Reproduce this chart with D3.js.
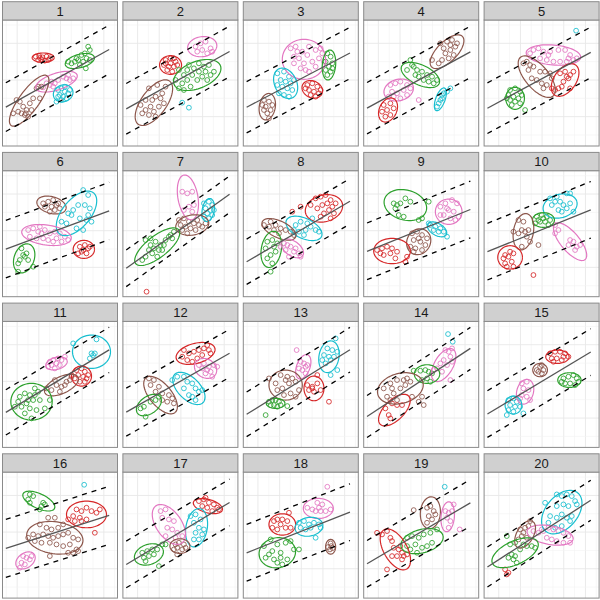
<!DOCTYPE html>
<html>
<head>
<meta charset="utf-8">
<script src="https://cdn.jsdelivr.net/npm/d3@7"></script>
<style>
  body { margin: 0; background: #fff; }
</style>
</head>
<body>
<div id="chart"></div>
<script>
const panelLabels = d3.range(1, 21).map(String);
const groups = ['red', 'green', 'cyan', 'pink', 'brown'];
const groupColors = ['#d62728', '#2ca02c', '#17becf', '#e377c2', '#8c564b'];

// fitted line per panel (intercept, slope) and half width of the dashed band
const fitIntercept = [111, 106, 111, 108, 108, 139, 78, 99, 132, 131, 99, 100, 93, 86, 94, 146, 95, 132, 97, 87];
const fitSlope = [0.558, 0.555, 0.525, 0.545, 0.54, 0.37, 0.716, 0.585, 0.405, 0.405, 0.605, 0.57, 0.625, 0.66, 0.6, 0.32, 0.6, 0.393, 0.59, 0.645];
const bandHalf = [73, 76, 77, 77, 76, 86, 55, 68, 85, 85, 68, 72, 67, 63, 70, 87, 70, 85, 70, 60];
const fitRange = [10, 320];

const xTicks = d3.range(11).map(k => 11.5 + 32.5 * k);
const yTicks = d3.range(7).map(k => 33 + 55 * k);

// points of each panel, by group
const panelPoints = [
  { // 1
    red: [[100,268],[110,270],[120,266],[132,268],[142,263],[107,258],[117,260],[127,256],[137,258],[112,264]],
    green: [[257,298],[262,288],[247,278],[237,273],[252,263],[227,258],[217,253],[242,253],[207,248],[232,243],[262,258],[197,253],[250,233],[222,263]],
    pink: [[202,198],[192,203],[182,208],[167,198],[157,188],[142,183],[132,188],[152,178],[197,213],[212,203],[122,176],[147,193]],
    cyan: [[167,168],[177,173],[187,163],[197,158],[172,153],[182,148],[192,143],[177,138],[162,133],[202,168],[187,178],[167,148]],
    brown: [[42,138],[52,133],[62,118],[72,108],[57,98],[67,93],[47,103],[77,88],[82,128],[92,143],[107,178],[102,173],[117,178],[112,143],[32,98],[70,98],[87,108]]
  },
  { // 2
    red: [[128,258],[143,263],[158,253],[123,243],[138,238],[153,238],[133,228],[148,223],[163,243],[128,248],[143,248],[153,263]],
    pink: [[218,298],[233,308],[248,313],[263,293],[268,283],[238,288],[223,283],[253,278]],
    green: [[168,228],[183,213],[193,198],[178,188],[198,243],[213,233],[228,248],[243,238],[258,243],[273,223],[238,208],[223,198],[208,213],[253,198],[263,213],[183,168],[168,173],[203,178],[248,223],[228,223],[193,228],[158,198]],
    cyan: [[178,130],[198,115]],
    brown: [[78,173],[103,183],[128,178],[118,158],[98,148],[68,138],[53,123],[68,108],[83,118],[93,103],[108,118],[123,128],[78,93],[58,98],[98,88],[113,143],[88,138]]
  },
  { // 3
    pink: [[142,293],[157,298],[177,283],[197,298],[217,288],[232,293],[152,268],[167,263],[192,273],[207,253],[227,263],[237,278],[172,233],[187,228],[197,223],[152,248],[182,248],[217,238],[242,253],[162,283]],
    green: [[252,278],[262,268],[247,253],[267,248],[257,238],[247,228],[262,223],[252,213],[267,233]],
    cyan: [[102,218],[122,223],[137,208],[112,198],[127,193],[142,188],[117,178],[132,173],[147,168],[107,158],[122,153],[137,148],[102,183],[152,198]],
    red: [[192,183],[207,188],[222,178],[197,168],[212,163],[227,158],[202,153],[217,148],[187,173],[232,168]],
    brown: [[62,138],[77,133],[87,123],[67,118],[82,108],[72,98],[62,108],[77,83],[57,123]]
  },
  { // 4
    brown: [[230,308],[250,313],[265,318],[275,298],[260,288],[245,278],[270,273],[255,263],[235,258],[225,248],[205,258],[240,293],[280,308],[260,303]],
    green: [[140,258],[150,238],[130,228],[160,228],[175,223],[190,213],[205,208],[220,198],[165,208],[180,198],[195,193],[155,213],[145,243],[210,188]],
    pink: [[80,183],[95,188],[110,193],[130,183],[140,173],[85,163],[100,158],[120,168],[90,148],[110,143],[130,153],[75,148],[165,138]],
    red: [[60,123],[80,128],[90,113],[70,108],[80,93],[65,88],[55,103]],
    cyan: [[260,173],[250,163],[235,153],[230,138],[225,128],[220,118],[235,143],[240,158]]
  },
  { // 5
    cyan: [[276,346]],
    pink: [[148,288],[163,293],[178,283],[198,283],[223,288],[243,288],[258,273],[268,258],[248,253],[228,253],[208,253],[188,258],[168,263],[193,273],[253,263],[278,263],[138,278]],
    brown: [[128,253],[138,243],[148,238],[133,228],[168,223],[183,223],[198,218],[158,198],[173,188],[188,183],[203,203],[143,203],[178,173],[118,248]],
    red: [[228,218],[243,223],[258,213],[268,223],[253,203],[238,193],[223,173],[213,168],[233,178],[258,173],[203,173],[248,208]],
    green: [[78,168],[93,173],[108,163],[73,153],[88,148],[103,143],[78,138],[93,133],[108,128],[83,123],[123,108],[113,153],[68,143]]
  },
  { // 6
    brown: [[122,280],[137,285],[152,290],[167,280],[172,265],[157,260],[142,255],[127,270],[147,270],[162,275]],
    cyan: [[242,320],[257,305],[227,275],[247,275],[262,265],[197,250],[207,245],[232,235],[252,230],[267,225],[177,225],[222,205],[242,200],[192,220],[257,245],[212,260]],
    pink: [[77,200],[92,205],[107,195],[112,210],[127,200],[142,190],[157,195],[172,190],[187,180],[197,170],[82,180],[102,175],[122,175],[137,170],[152,165],[177,165],[117,190],[162,175]],
    red: [[232,150],[247,155],[257,145],[237,135],[252,130],[227,130],[242,140],[262,150]],
    green: [[57,145],[72,130],[67,120],[52,110],[77,110],[47,100],[92,90],[47,75],[62,125]]
  },
  { // 7
    red: [[71,15]],
    pink: [[178,315],[193,310],[208,315],[213,275],[198,270],[183,260],[208,255]],
    cyan: [[243,280],[258,285],[268,275],[248,265],[263,260],[253,250],[268,245],[243,240],[258,235],[273,260]],
    brown: [[168,230],[183,235],[198,225],[213,220],[228,215],[238,210],[218,200],[203,205],[188,210],[173,215],[248,220],[223,230],[193,190],[178,200]],
    green: [[68,170],[83,175],[98,165],[113,155],[128,170],[143,185],[153,195],[138,180],[93,145],[108,140],[78,140],[88,130],[103,120],[68,120],[58,110],[118,140],[148,175],[123,155],[83,155]]
  },
  { // 8
    red: [[217,295],[232,300],[247,305],[262,290],[252,280],[237,275],[267,270],[257,260],[242,250],[232,240],[262,235],[272,250],[222,265],[202,275],[172,270],[147,255],[277,280]],
    cyan: [[157,215],[172,225],[192,220],[202,210],[217,200],[227,195],[167,195],[187,200],[152,200],[207,235],[182,185]],
    brown: [[62,215],[82,225],[97,215],[112,205],[127,200],[142,195],[92,200],[77,210],[107,190],[152,185]],
    green: [[72,165],[87,170],[102,160],[67,145],[92,150],[82,125],[72,115],[87,100],[82,75],[97,135]],
    pink: [[122,160],[132,155],[142,150],[157,145],[167,130],[152,135],[137,120],[127,140],[112,150],[172,120]]
  },
  { // 9
    green: [[90,280],[100,275],[110,280],[125,295],[140,285],[105,245],[120,240],[175,235],[195,285],[165,230],[95,265]],
    pink: [[230,270],[245,280],[265,290],[280,280],[255,260],[270,255],[285,240],[240,245],[260,235],[230,245],[275,230],[250,265]],
    cyan: [[200,215],[215,210],[230,205],[240,195],[225,195],[210,200],[250,180],[195,220]],
    brown: [[145,190],[160,195],[175,185],[190,175],[150,170],[170,165],[185,155],[140,150],[155,145],[175,140],[150,135],[165,175]],
    red: [[40,140],[55,145],[70,150],[85,145],[100,135],[80,130],[60,125],[95,115],[125,105],[130,120],[50,130]]
  },
  { // 10
    cyan: [[198,295],[218,300],[248,310],[258,310],[228,285],[203,275],[223,260],[233,255],[248,265],[268,255],[258,280],[238,275],[213,285]],
    green: [[158,240],[173,245],[188,240],[198,230],[168,225],[183,225],[153,220],[193,215],[178,235],[163,230]],
    brown: [[103,230],[118,225],[113,200],[123,195],[133,200],[88,195],[103,190],[138,165],[163,155],[113,150],[128,180]],
    pink: [[213,215],[223,200],[213,190],[258,170],[268,165],[278,150],[273,140],[253,155],[288,155]],
    red: [[63,125],[78,135],[88,130],[58,115],[73,120],[83,105],[68,90],[88,90],[63,100],[148,65]]
  },
  { // 11
    cyan: [[212,312],[282,324],[267,282],[277,282],[262,267],[272,277]],
    pink: [[142,257],[152,262],[167,267],[177,262],[187,272],[147,247],[162,252],[172,247],[157,237],[137,242]],
    red: [[222,232],[237,237],[247,227],[227,217],[242,212],[252,207],[232,197],[247,197],[217,207],[207,217],[257,217]],
    brown: [[132,177],[147,172],[162,187],[177,182],[192,197],[202,202],[207,212],[172,167],[157,202],[187,187]],
    green: [[52,152],[67,162],[82,157],[97,177],[107,167],[112,142],[92,142],[72,132],[57,122],[37,122],[82,117],[102,112],[67,102],[87,87],[127,117],[142,142],[47,137],[77,142],[97,157]]
  },
  { // 12
    red: [[183,292],[198,282],[213,287],[228,292],[243,297],[258,292],[263,282],[193,262],[208,257],[223,267],[238,277],[178,272],[253,307]],
    pink: [[228,247],[243,252],[258,242],[238,237],[253,232],[273,247],[283,242],[263,227],[248,222],[268,212]],
    cyan: [[148,202],[163,212],[183,212],[193,197],[208,192],[218,177],[228,167],[208,152],[218,142],[198,157],[238,172],[183,177]],
    brown: [[78,207],[93,202],[83,187],[108,182],[118,162],[138,157],[148,147],[133,137],[153,132],[118,142],[98,167]],
    green: [[63,122],[83,137],[98,142],[108,152],[68,92],[53,117]]
  },
  { // 13
    cyan: [[277,327],[252,297],[267,292],[282,287],[242,277],[257,272],[272,272],[237,262],[262,262],[247,252],[282,232],[262,217]],
    pink: [[160,292],[172,257],[182,252],[187,242],[177,232],[187,222],[192,247],[167,237]],
    brown: [[77,207],[112,217],[132,212],[147,207],[97,192],[117,177],[137,192],[157,197],[167,172],[142,162],[122,157],[157,152],[102,172],[127,202]],
    red: [[192,187],[207,182],[222,192],[197,172],[212,167],[232,172],[222,217],[257,137],[207,177]],
    green: [[77,137],[87,142],[97,142],[107,137],[82,127],[92,127],[102,122],[112,127],[132,124],[67,97]]
  },
  { // 14
    cyan: [[253,340],[267,317]],
    pink: [[245,292],[255,287],[265,297],[260,272],[240,262],[230,252],[250,247],[220,237],[235,227],[210,232],[265,257],[260,202]],
    green: [[150,230],[170,230],[185,232],[195,227],[205,222],[190,207],[175,202],[200,197]],
    brown: [[80,192],[100,202],[120,202],[130,207],[140,197],[60,177],[85,177],[110,177],[125,187],[90,162],[70,152],[100,142],[145,152],[175,152],[180,127],[165,137],[80,142]],
    red: [[65,117],[85,132],[100,127],[115,127],[75,97],[80,87]]
  },
  { // 15
    red: [[198,282],[213,287],[228,287],[243,282],[253,272],[203,267],[218,267],[233,262],[208,257],[238,272]],
    brown: [[168,242],[173,247],[178,232],[163,227],[173,222],[158,232]],
    green: [[238,207],[253,212],[268,217],[278,207],[243,192],[258,192],[273,187],[233,197],[283,197]],
    pink: [[113,192],[128,197],[118,177],[133,172],[113,157],[128,152],[138,142],[108,147]],
    cyan: [[73,142],[88,147],[98,137],[78,127],[93,122],[73,112],[88,107],[108,122],[68,97],[118,102]]
  },
  { // 16
    cyan: [[245,340]],
    green: [[82,311],[92,306],[77,296],[82,286],[122,286],[117,276],[127,281],[112,266]],
    red: [[222,266],[237,261],[252,271],[267,261],[282,256],[292,266],[212,246],[232,241],[252,236],[237,231],[217,231],[277,196],[197,236]],
    brown: [[137,241],[157,241],[112,221],[132,211],[147,206],[167,211],[182,221],[92,191],[107,186],[122,191],[137,186],[152,181],[167,186],[182,191],[197,196],[212,181],[227,176],[97,171],[117,166],[142,166],[162,161],[182,156],[202,161],[222,146],[142,126],[197,136],[212,136],[227,141],[77,181]],
    pink: [[62,126],[72,121],[82,116],[57,106],[67,101],[87,126],[52,91]]
  },
  { // 17
    red: [[228,291],[243,296],[258,286],[273,281],[283,271],[238,276],[253,271],[268,261],[288,266],[248,301]],
    cyan: [[203,246],[218,251],[233,236],[213,226],[228,211],[218,196],[238,191],[213,176],[228,176],[243,206]],
    pink: [[113,261],[128,266],[118,241],[138,236],[153,231],[133,211],[148,206],[163,196],[158,181],[178,186],[128,186]],
    brown: [[158,161],[168,166],[183,161],[163,151],[178,146],[153,146],[188,151],[163,131]],
    green: [[58,136],[73,141],[88,146],[103,146],[63,121],[78,126],[93,131],[68,111],[108,96],[118,161],[128,161]]
  },
  { // 18
    pink: [[252,334],[192,271],[207,266],[222,286],[237,281],[217,261],[232,261],[247,261],[262,266],[227,271]],
    red: [[92,231],[102,236],[117,236],[132,231],[137,256],[112,221],[127,211],[142,211],[102,206],[87,211]],
    cyan: [[167,226],[182,231],[197,221],[212,226],[227,221],[172,211],[187,206],[202,211],[217,181],[232,211]],
    green: [[62,156],[82,176],[102,161],[127,166],[142,171],[152,146],[167,146],[87,141],[112,136],[67,121],[92,116],[102,106],[112,121],[132,116],[77,131],[117,101]],
    brown: [[262,164],[264,156],[260,146],[268,150],[254,153]]
  },
  { // 19
    cyan: [[243,334]],
    brown: [[150,264],[190,271],[200,276],[210,261],[195,246],[205,236],[190,226],[215,251]],
    pink: [[245,261],[255,256],[265,261],[250,241],[260,231],[255,211],[270,281],[288,206]],
    green: [[130,181],[145,186],[165,181],[180,191],[200,196],[220,206],[155,161],[175,151],[190,156],[205,166],[140,146],[160,136],[130,156]],
    red: [[40,196],[55,191],[70,201],[80,181],[85,171],[90,151],[105,146],[115,136],[120,126],[100,126],[85,126],[115,116],[70,86],[110,156],[130,131]]
  },
  { // 20
    cyan: [[218,311],[233,306],[248,311],[263,306],[273,291],[278,281],[238,281],[253,276],[183,286],[218,276],[198,246],[218,241],[233,251],[248,241],[263,246],[193,226],[213,211],[233,216],[258,231]],
    pink: [[148,201],[163,196],[178,201],[193,211],[208,206],[223,201],[238,196],[253,186],[188,181],[203,176],[218,171],[238,166],[258,166],[173,206]],
    brown: [[108,206],[123,211],[133,216],[113,186],[128,181],[103,176],[138,231],[118,196]],
    green: [[68,186],[78,161],[93,166],[118,161],[128,156],[143,156],[153,151],[83,131],[93,126],[73,121],[88,116],[98,106],[108,146]],
    red: [[63,86],[73,76],[68,71]]
  }
];

// ellipses of each panel: group, centre x, centre y, semi-axis a, semi-axis b, angle (deg)
const panelEllipses = [
  [['red',122,265,33,14,0],['green',232,255,45,20,15],['pink',162,193,65,25,18],['cyan',182,158,30,25,20],['brown',80,136,92,30,54]],
  [['red',143,243,33,28,0],['pink',238,298,44,30,8],['green',223,213,75,40,22],['brown',93,130,80,38,54]],
  [['pink',182,260,65,60,0],['green',257,243,45,20,85],['cyan',127,188,48,33,-65],['red',207,170,32,25,-25],['brown',72,118,40,24,80]],
  [['brown',250,283,65,30,45],['green',170,213,62,30,-25],['pink',105,168,45,32,15],['red',73,108,38,26,65],['cyan',230,140,36,14,70]],
  [['pink',208,273,82,30,-5],['brown',158,208,76,35,-50],['red',243,198,55,33,55],['green',93,143,33,28,90]],
  [['brown',147,275,45,25,-15],['cyan',222,250,80,42,50],['pink',132,185,75,30,-8],['red',244,142,32,27,0],['green',65,115,45,30,70]],
  [['pink',195,298,68,30,100],['cyan',256,260,35,18,80],['brown',208,215,50,30,10],['green',103,150,82,32,38]],
  [['red',242,265,57,40,15],['cyan',182,205,58,30,-25],['brown',107,202,55,25,-25],['green',84,142,55,30,80],['pink',147,145,38,22,-35]],
  [['green',125,275,65,45,-15],['pink',255,255,40,38,0],['cyan',220,202,32,18,-30],['brown',165,165,40,35,60],['red',85,137,55,38,0]],
  [['cyan',228,272,52,35,15],['green',178,230,33,22,0],['brown',118,195,55,30,80],['pink',258,165,70,28,-50],['red',78,118,37,35,0]],
  [['cyan',267,287,57,50,0],['pink',162,252,33,18,15],['red',237,214,30,30,0],['brown',177,187,55,25,25],['green',87,137,62,55,0]],
  [['red',218,282,60,30,15],['pink',248,237,35,28,-30],['cyan',198,177,60,33,-45],['brown',113,157,68,33,-50],['green',78,127,42,26,35]],
  [['cyan',257,272,48,30,80],['pink',180,242,38,20,70],['brown',127,187,50,45,0],['red',212,177,37,30,90],['green',97,132,28,15,0]],
  [['pink',240,247,55,28,60],['green',190,220,38,28,0],['brown',110,177,70,45,15],['red',92,112,60,30,45]],
  [['red',220,272,35,20,0],['brown',168,232,22,20,0],['green',256,202,35,22,0],['pink',123,167,38,25,75],['cyan',88,127,27,25,90]],
  [['green',109,291,52,22,-25],['red',252,251,60,40,0],['brown',157,181,85,48,-8],['pink',69,113,32,22,35]],
  [['red',255,276,45,20,-15],['cyan',221,211,58,32,80],['pink',138,221,68,38,-55],['brown',171,156,30,22,0],['green',78,131,45,30,20]],
  [['pink',225,269,45,30,0],['red',117,221,40,32,0],['cyan',197,214,42,28,10],['green',102,136,55,45,10],['brown',262,154,22,15,90]],
  [['brown',200,256,48,30,85],['pink',252,244,45,20,85],['green',175,171,65,35,15],['red',95,146,68,35,-60]],
  [['cyan',233,258,75,48,50],['pink',198,189,70,28,-10],['brown',123,191,45,25,60],['green',93,136,75,35,25]]
];

const W = 600, H = 600;
const svg = d3.select('#chart').append('svg')
  .attr('width', W).attr('height', H)
  .style('font-family', '"Liberation Sans", Arial, sans-serif');

const color = d3.scaleOrdinal().domain(groups).range(groupColors);

function ellipseOutline(e) {
  const [, cx, cy, a, b, deg] = e;
  const th = deg * Math.PI / 180;
  return d3.range(0, 73).map(k => {
    const t = k / 72 * 2 * Math.PI;
    const ex = a * Math.cos(t), ey = b * Math.sin(t);
    return [cx + ex * Math.cos(th) - ey * Math.sin(th), cy + ex * Math.sin(th) + ey * Math.cos(th)];
  });
}

panelLabels.forEach((label, i) => {
  const col = i % 5, row = Math.floor(i / 5);
  const left = 2.5 + col * 120.4, width = 115;
  const stripTop = 1.7 + row * 150.7, stripH = 18.3;
  const top = stripTop + stripH, bottom = top + 126;

  const x = d3.scaleLinear().domain([0, 345]).range([left, left + width]);
  const y = d3.scaleLinear().domain([0, 378]).range([bottom, top]);

  const g = svg.append('g').attr('class', 'panel');

  // grid
  g.selectAll('.vgrid').data(xTicks).join('line')
    .attr('x1', d => x(d)).attr('x2', d => x(d))
    .attr('y1', top).attr('y2', bottom)
    .attr('stroke', (d, k) => k % 2 ? '#e8e8e8' : '#f2f2f2')
    .attr('stroke-width', (d, k) => k % 2 ? 0.9 : 0.6);
  g.selectAll('.hgrid').data(yTicks).join('line')
    .attr('y1', d => y(d)).attr('y2', d => y(d))
    .attr('x1', left).attr('x2', left + width)
    .attr('stroke', (d, k) => k % 2 ? '#e8e8e8' : '#f2f2f2')
    .attr('stroke-width', (d, k) => k % 2 ? 0.9 : 0.6);

  const clipId = 'clip' + i;
  svg.append('clipPath').attr('id', clipId)
    .append('rect').attr('x', left).attr('y', top).attr('width', width).attr('height', bottom - top);
  const plot = g.append('g').attr('clip-path', `url(#${clipId})`);

  // points
  const pts = panelPoints[i];
  Object.keys(pts).forEach(grp => {
    plot.append('g').selectAll('circle').data(pts[grp]).join('circle')
      .attr('cx', d => x(d[0])).attr('cy', d => y(d[1]))
      .attr('r', 2.4)
      .attr('fill', 'none')
      .attr('stroke', color(grp))
      .attr('stroke-width', 0.85);
  });

  // ellipses
  const line = d3.line().x(d => x(d[0])).y(d => y(d[1]));
  plot.selectAll('.ell').data(panelEllipses[i]).join('path')
    .attr('d', d => line(ellipseOutline(d)))
    .attr('fill', 'none')
    .attr('stroke', d => color(d[0]))
    .attr('stroke-width', 1.2);

  // fitted line with dashed band
  const a = fitIntercept[i], b = fitSlope[i], h = bandHalf[i];
  [-h, h].forEach(off => {
    plot.append('path')
      .attr('d', line(fitRange.map(v => [v, a + b * v + off])))
      .attr('stroke', '#000').attr('stroke-width', 1.3)
      .attr('stroke-dasharray', '5,5').attr('fill', 'none');
  });
  plot.append('path')
    .attr('d', line(fitRange.map(v => [v, a + b * v])))
    .attr('stroke', '#555').attr('stroke-width', 1.3).attr('fill', 'none');

  // border and strip
  g.append('rect')
    .attr('x', left).attr('y', top).attr('width', width).attr('height', bottom - top)
    .attr('fill', 'none').attr('stroke', '#8a8a8a').attr('stroke-width', 1);
  g.append('rect')
    .attr('x', left).attr('y', stripTop).attr('width', width).attr('height', stripH)
    .attr('fill', '#d0d0d0').attr('stroke', '#8a8a8a').attr('stroke-width', 1);
  g.append('text')
    .attr('x', left + width / 2).attr('y', stripTop + stripH / 2)
    .attr('dy', '0.36em')
    .attr('text-anchor', 'middle')
    .attr('font-size', 13)
    .attr('fill', '#1a1a1a')
    .text(label);
});
</script>
</body>
</html>
